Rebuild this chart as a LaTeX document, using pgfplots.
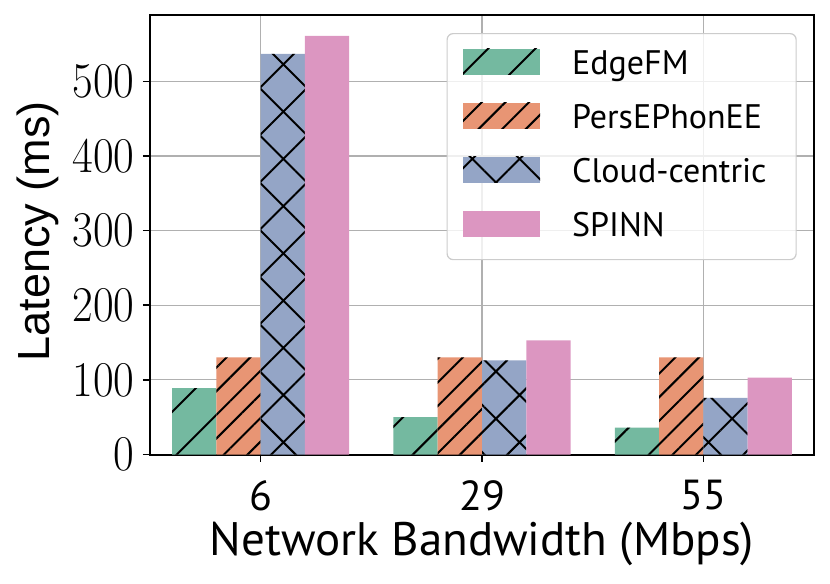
\documentclass[border=0pt]{standalone}
\usepackage{fontspec}
\usepackage{pgfplots}
\pgfplotsset{compat=1.18}
\usetikzlibrary{patterns.meta}
\newfontfamily\ptsans{PT Sans}
\newfontfamily\libsans{Liberation Sans}
\newfontfamily\lmten{Latin Modern Roman}
\definecolor{cA}{HTML}{74B9A0}
\definecolor{cB}{HTML}{E89574}
\definecolor{cC}{HTML}{94A5C6}
\definecolor{cD}{HTML}{DC96C1}
\definecolor{gridc}{HTML}{B0B0B0}
\begin{document}
\begin{tikzpicture}
\path[use as bounding box] (-75bp,-64.75bp) rectangle (340bp,227.25bp);
\begin{axis}[
  at={(0,0)}, anchor=south west,
  scale only axis, width=332bp, height=219.75bp,
  xmin=-0.5, xmax=2.5, ymin=0, ymax=589,
  ybar, bar width=0.2,
  legend image code/.code={\path[#1, sharp corners, fill opacity=1] (0bp,0bp) rectangle (38.5bp,13bp);},
  xtick={0,1,2}, xticklabels={6,29,55},
  ytick={0,100,200,300,400,500},
  grid=major, major grid style={gridc, line width=0.6bp},
  axis line style={black, line width=1bp},
  tick align=outside, major tick length=3.5bp,
  tick style={black, line width=0.8bp},
  tick pos=left,
  /pgf/number format/assume math mode=true,
  yticklabel style={font=\lmten\fontsize{25bp}{25bp}\selectfont, anchor=east, inner sep=0pt, xshift=-4bp, xscale=0.9},
  xticklabel style={font=\ptsans\fontsize{21bp}{21bp}\selectfont, anchor=north, inner sep=0pt, yshift=-9.25bp},
  xlabel={Network Bandwidth (Mbps)},
  ylabel={Latency (ms)},
  xlabel style={at={(axis description cs:0.5,-0.2309)}, anchor=base, inner sep=0pt, font=\ptsans\fontsize{23.5bp}{23.5bp}\selectfont},
  ylabel style={at={(axis description cs:-0.1687,0.508)}, anchor=center, inner sep=0pt, font=\libsans\fontsize{22.5bp}{22.5bp}\selectfont},
  legend style={at={(axis description cs:0.974,0.959)}, anchor=north east,
    draw=black!20, line width=0.6bp, rounded corners=3bp, fill=white, fill opacity=0.8, text opacity=1,
    inner xsep=8bp, inner ysep=7.5bp, row sep=10bp, column sep=16bp,
    nodes={anchor=base west, inner sep=0pt, text height=13bp, text depth=4bp, text width=104bp,
      font=\ptsans\fontsize{17bp}{17bp}\selectfont}},
]
\addplot[fill=cA, draw=none, bar shift=-0.3,
  postaction={pattern={Lines[angle=45,distance=16.7bp,line width=1bp]}, pattern color=black}]
  coordinates {(0,89) (1,50) (2,36)};
\addplot[fill=cB, draw=none, bar shift=-0.1,
  postaction={pattern={Lines[angle=45,distance=8.35bp,line width=1bp]}, pattern color=black}]
  coordinates {(0,130) (1,130) (2,130)};
\addplot[fill=cC, draw=none, bar shift=0.1,
  postaction={pattern={Hatch[angle=45,distance=16.7bp,line width=1bp]}, pattern color=black}]
  coordinates {(0,537) (1,126) (2,76)};
\addplot[fill=cD, draw=none, bar shift=0.3]
  coordinates {(0,561) (1,153) (2,103)};
\legend{EdgeFM, PersEPhonEE, Cloud-centric, SPINN}
\end{axis}
\end{tikzpicture}
\end{document}
